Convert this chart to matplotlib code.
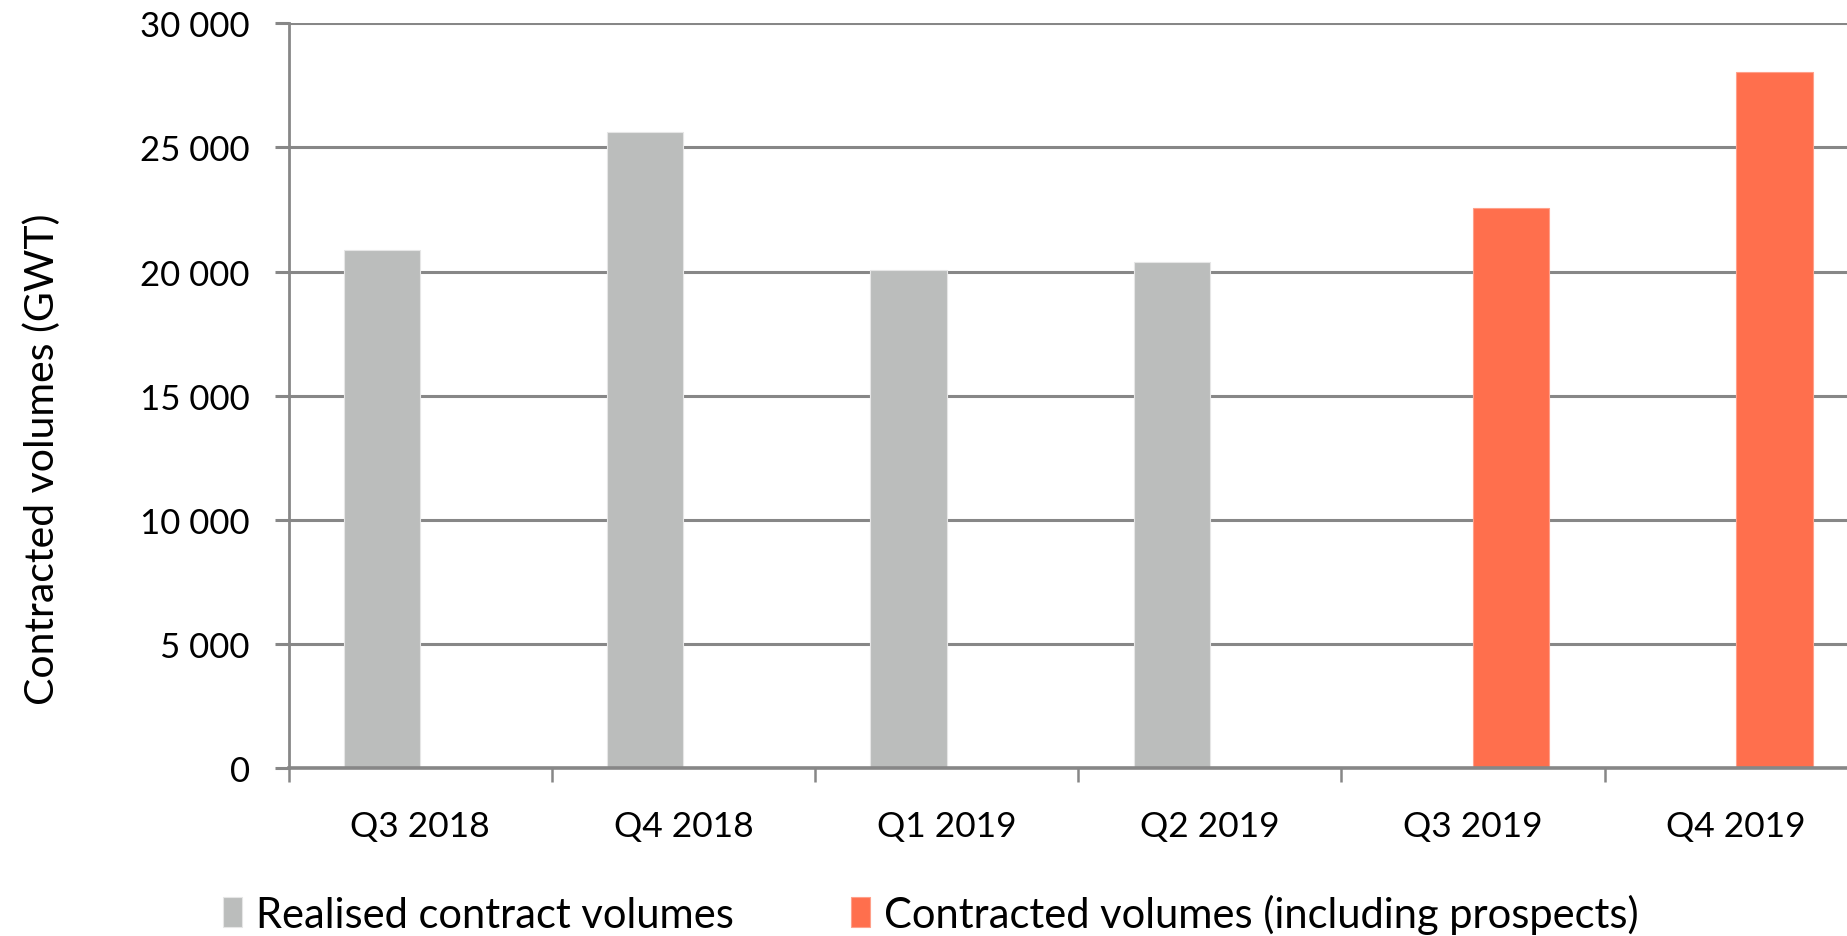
import numpy as np
import matplotlib
matplotlib.use("Agg")
import matplotlib.pyplot as plt
from matplotlib.ticker import FuncFormatter

plt.rcParams['font.family'] = ['Lato', 'DejaVu Sans']

# Quarterly contracted volumes (GWT)
quarters = ["Q3 2018", "Q4 2018", "Q1 2019", "Q2 2019", "Q3 2019", "Q4 2019"]
realised = [20850, 25600, 20070, 20390, 0, 0]
contracted = [0, 0, 0, 0, 22560, 28020]

grey = "#BBBDBC"
orange = "#FF6F4D"
grid_col = "#878787"

fig = plt.figure(figsize=(18.47, 9.37), dpi=100)
# axes runs slightly past the right edge of the figure
ax = fig.add_axes([0.1563, 0.1793, 0.855, 0.7948])

x = np.arange(len(quarters))
w = 0.29
ax.bar(x - w / 2, realised, w, color=grey, edgecolor="#E6E6E6", linewidth=0.8,
       label="Realised contract volumes", zorder=3)
ax.bar(x + w / 2, contracted, w, color=orange, edgecolor="#FFA08A", linewidth=0.8,
       label="Contracted volumes (including prospects)", zorder=3)

ax.set_xlim(-0.5, len(quarters) - 0.5)
ax.set_ylim(0, 30000)
ax.set_yticks(range(0, 30001, 5000))
ax.yaxis.set_major_formatter(FuncFormatter(lambda v, p: f"{int(v):,}".replace(",", " ")))
ax.yaxis.grid(True, color=grid_col, linewidth=2.2, zorder=0)

# category boundaries get the tick marks, labels sit in the middle
ax.set_xticks(np.arange(-0.5, len(quarters), 1.0))
ax.set_xticklabels([])
ax.set_xticks(x, minor=True)
ax.set_xticklabels(quarters, minor=True)
ax.tick_params(axis="x", which="major", length=10, width=1.8, color=grid_col, direction="out")
ax.tick_params(axis="x", which="minor", length=0, pad=30, labelsize=25.5)
ax.tick_params(axis="y", length=10, width=2.2, color=grid_col, pad=18, labelsize=25)

for s in ["top", "right"]:
    ax.spines[s].set_visible(False)
ax.spines["left"].set_color(grid_col)
ax.spines["left"].set_linewidth(2.0)
ax.spines["bottom"].set_color(grid_col)
ax.spines["bottom"].set_linewidth(2.6)
ax.spines["bottom"].set_zorder(4)

ax.set_ylabel("Contracted volumes (GWT)", fontsize=29.5, labelpad=0)
ax.yaxis.set_label_coords(-0.144, 0.416)

fig.legend(loc="center", bbox_to_anchor=(0.504, 0.024), ncol=2, frameon=False,
           fontsize=30, handlelength=0.45, handleheight=0.75, handletextpad=0.34,
           columnspacing=2.83)

fig.savefig("out.png", dpi=100)
